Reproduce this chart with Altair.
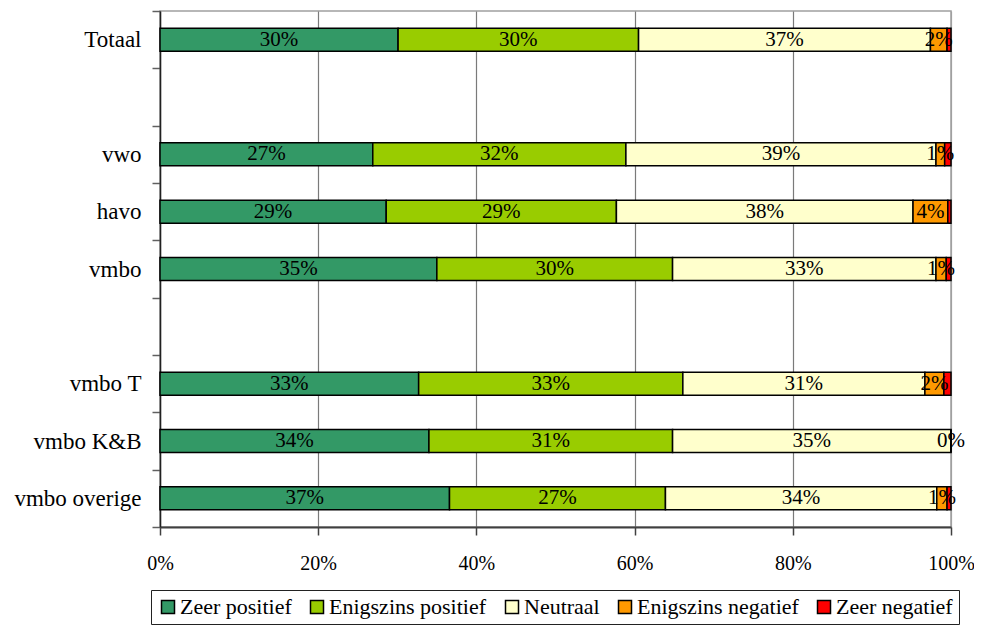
import altair as alt
import pandas as pd

groups = ["Totaal", "vwo", "havo", "vmbo", "vmbo T", "vmbo K&B", "vmbo overige"]
y_domain = ["Totaal", " ", "vwo", "havo", "vmbo", "  ", "vmbo T", "vmbo K&B", "vmbo overige"]
categories = ["Zeer positief", "Enigszins positief", "Neutraal", "Enigszins negatief", "Zeer negatief"]
colors = ["#339966", "#99CC00", "#FFFFCC", "#FF9900", "#FF0000"]

zeer_positief = [30.1, 26.9, 28.6, 35.0, 32.7, 34.0, 36.6]
enigszins_positief = [30.4, 32.0, 29.1, 29.8, 33.4, 30.8, 27.3]
neutraal = [36.9, 39.2, 37.5, 33.3, 30.6, 35.2, 34.3]
enigszins_negatief = [2.1, 1.1, 4.4, 1.3, 2.4, 0.0, 1.3]
zeer_negatief = [0.5, 0.8, 0.4, 0.6, 0.9, 0.0, 0.5]

series = [zeer_positief, enigszins_positief, neutraal, enigszins_negatief, zeer_negatief]
rows = []
for ci, (cat, vals) in enumerate(zip(categories, series)):
    for g, v in zip(groups, vals):
        rows.append({"group": g, "cat": cat, "order": ci, "value": v})
df = pd.DataFrame(rows)

FONT = "Liberation Serif"

base = alt.Chart(df).transform_stack(
    stack="value", groupby=["group"], as_=["x0", "x1"], offset="normalize",
    sort=[alt.SortField("order", order="ascending")]
)

y_enc = alt.Y(
    "group:N", scale=alt.Scale(domain=y_domain, paddingInner=0, paddingOuter=0),
    axis=alt.Axis(title=None, tickBand="extent", labelFont=FONT, labelFontSize=23,
                  labelColor="black", labelPadding=11, tickSize=8, tickColor="#606060",
                  tickWidth=1.5, domainColor="#202020", domainWidth=1.5)
)

bars = base.mark_bar(size=23, stroke="black", strokeWidth=1.5).encode(
    x=alt.X("x0:Q", scale=alt.Scale(domain=[0, 1]),
            axis=alt.Axis(title=None, values=[0, 0.2, 0.4, 0.6, 0.8, 1.0], format=".0%",
                          labelFont=FONT, labelFontSize=20, labelColor="black",
                          labelFlush=False,
                          labelPadding=18, tickSize=8, tickColor="#404040", tickWidth=1.5,
                          domainColor="#404040", domainWidth=2, grid=True,
                          gridColor={"condition": {"test": "datum.value === 1", "value": "#a0a0a0"},
                                     "value": "#7a7a7a"},
                          gridWidth=1.2)),
    x2="x1:Q",
    y=y_enc,
    color=alt.Color("cat:N", scale=alt.Scale(domain=categories, range=colors),
                    legend=alt.Legend(title=None, orient="none", legendX=-9, legendY=579,
                                      direction="horizontal", columns=5,
                                      symbolType="square", symbolSize=169,
                                      symbolStrokeColor="black", symbolStrokeWidth=1.5,
                                      labelFont=FONT, labelFontSize=22, labelColor="black",
                                      labelLimit=0, labelOffset=1, columnPadding=14,
                                      strokeColor="#222222", padding=6)),
    order=alt.Order("order:Q"),
)

labels = base.transform_filter(
    "datum.cat !== 'Zeer negatief'"
).transform_calculate(
    mid="(datum.x0 + datum.x1) / 2",
    label="format(datum.value, '.0f') + '%'"
).mark_text(font=FONT, fontSize=21, color="black", align="center", baseline="middle").encode(
    x="mid:Q",
    y=alt.Y("group:N", scale=alt.Scale(domain=y_domain)),
    text="label:N",
)

chart = alt.layer(bars, labels).properties(
    width=791, height=516,
    padding={"left": 152, "top": 3, "right": 23, "bottom": 100},
    autosize=alt.AutoSizeParams(type="none")
).configure_view(stroke="#a0a0a0", strokeWidth=1.5)

chart.save("out.html", embed_options={"renderer": "svg", "actions": False})
